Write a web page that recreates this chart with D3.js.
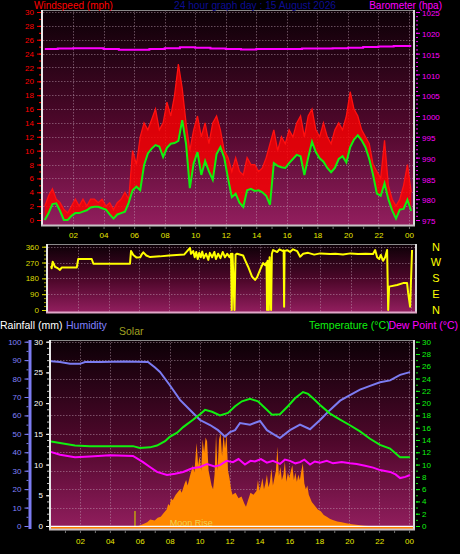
<!DOCTYPE html>
<html><head><meta charset="utf-8">
<script src="https://cdn.jsdelivr.net/npm/d3@7"></script>
<style>body{margin:0;background:#000}svg{display:block}text{font-family:"Liberation Sans",Arial,sans-serif}</style>
</head><body><script>
// ---------------- DATA ----------------
const titleText = "24 hour graph day : 15 August 2026";
const hourTicks = [2,4,6,8,10,12,14,16,18,20,22,24];
const hourLabels = ["02","04","06","08","10","12","14","16","18","20","22","00"];
const windTickValues = [0,2,4,6,8,10,12,14,16,18,20,22,24,26,28,30];
const baroTickValues = [975,980,985,990,995,1000,1005,1010,1015,1020,1025];
const dirTickValues = [0,90,180,270,360];
const compassLabels = ["N","W","S","E","N"];
const humTickValues = [0,10,20,30,40,50,60,70,80,90,100];
const rainTickValues = [0,5,10,15,20,25,30];
const tempTickValues = [0,2,4,6,8,10,12,14,16,18,20,22,24,26,28,30];

// wind, sampled every 15 minutes from 00:09
const windStart = 0.15, windStep = 0.25;
const windGust = [2,3.5,4.5,3,2.5,1.5,1,2,3,2,3,2,3,3,2.5,3,2,2.5,1.5,2.5,3,4,3,10,
  8,12,14,13,14.5,16,13,14,17,15,18,22.5,19,14,10,13,15,12,14,11,14,15,13,10,
  9,7,9,7,6.5,9,8,8,7,7.5,9,11,13,10,12,11,13,12,14,15,12,15,16,13,
  12,14,12,11,13,14,13,15,18.5,16,15,13,12,11,8,7,6,11.5,5,3,2,3,5,8,4];
const windAvg = [0,1,2.3,2.4,1.3,0,0,0.6,1,1,1.2,1.4,1.8,1.9,1.9,1.7,1.5,0.8,0.2,0.8,1,1.2,2.5,4.3,
  4.8,4.3,7.9,9.6,10.3,10.8,10.6,9.1,10.4,11,11.1,11.4,14.4,11,4.6,8.2,9.8,6.5,8.5,7,5.8,9.5,10.5,9,
  6,3.3,3.8,2.5,1.9,4.3,4.5,4.2,4.3,4,3.5,2.2,8.2,7.8,7.6,7.5,8.2,8.8,9.4,9.2,6.5,9,11.3,9.8,
  8.9,8.4,7.5,6.9,7.5,8.8,9.2,8.3,10.5,11.6,12.2,11.5,10.5,8.8,6.5,3.8,3.5,5.3,3,1.4,0.2,1.5,1.6,2.9,1.3];

const baroTimes = [0.15,1,2,3,4,5,6,7,8,9,10,11,12,13,14,15,16,17,18,19,20,21,22,23,24.15];
const baroValues = [1016.1,1016.2,1016.3,1016.3,1016.1,1015.9,1015.9,1016.1,1016.3,1016.5,1016.4,1016.2,1016.1,1016.0,1016.1,1016.1,1016.1,1016.2,1016.2,1016.3,1016.4,1016.6,1016.7,1016.8,1016.8];

const dirTimes = [0.2,0.24,0.31,0.46,0.6,0.79,0.9,1.9,2.0,2.89,3.0,5.42,5.49,5.64,5.86,6.1,6.2,6.3,6.5,6.75,7.4,8.0,8.5,9.0,
  9.39,9.45,9.6,9.7,9.8,9.9,10.0,10.1,10.2,10.3,10.45,10.6,10.7,10.85,11.0,11.1,11.25,11.4,11.55,11.7,11.85,12.0,12.1,
  12.15,12.2,12.33,12.4,12.5,12.9,13.03,13.23,13.49,13.69,13.82,14.02,14.22,14.35,14.45,14.48,14.52,14.6,14.65,14.75,14.8,
  14.88,15.15,15.3,15.54,15.58,15.61,15.64,15.81,16.0,16.2,16.47,16.67,16.87,17.2,17.6,18.0,18.65,19.0,19.5,20.0,20.5,21.0,
  21.49,21.63,21.76,21.9,22.0,22.16,22.29,22.42,22.49,22.55,23.08,23.48,23.74,23.81,23.94,24.07];
const dirValues = [250,237,275,246,240,228,241,241,290,290,263,263,336,313,298,300,317,328,310,301,305,310,313,315,
  353,320,335,300,330,290,325,300,332,295,320,285,325,300,330,290,320,295,330,300,320,300,320,
  0,320,0,315,320,310,284,246,190,171,185,228,267,255,270,0,280,0,300,0,320,
  341,330,345,335,340,19,335,340,330,345,335,303,320,325,315,322,318,320,315,322,318,320,
  318,341,300,290,313,280,300,341,0,133,142,153,153,97,19,341];

const tempTimes = [0,0.67,1.67,2.67,4.0,5.55,6.0,6.68,7.15,7.69,8.0,8.5,8.9,9.56,10.03,10.36,10.83,11.36,11.9,12.37,12.83,13.37,13.9,14.37,14.84,15.37,15.9,16.38,16.91,17.25,17.58,18.05,18.72,19.39,20.05,20.72,21.39,22.06,22.73,23.4,24.06];
const tempValues = [13.8,13.5,13.1,13.0,13.0,13.0,12.7,12.8,13.1,13.8,14.5,15.2,16.1,17.3,18.2,18.9,18.6,18.0,18.4,19.5,20.3,20.7,20.3,19.2,18.1,18.2,19.5,20.8,21.8,21.5,20.8,19.7,18.3,17.3,16.4,15.4,14.2,13.2,12.6,11.2,11.2];

const dewTimes = [0,0.67,1.67,2.67,4.0,5.55,6.22,6.68,7.15,7.82,8.36,8.9,9.5,10.03,10.5,11.0,11.36,11.8,12.23,12.6,13.03,13.4,13.7,14.1,14.5,14.9,15.37,15.7,16.04,16.4,16.71,17.0,17.38,17.7,18.05,18.5,18.92,19.5,20.05,20.5,21.06,21.6,22.06,22.73,23.1,23.4,23.75,24.06];
const dewValues = [12.1,11.6,11.2,11.3,11.5,11.4,10.4,9.6,8.8,8.3,8.5,8.8,9.4,9.6,10.1,9.7,9.9,10.6,10.4,10.9,10.0,10.6,10.5,10.9,10.3,10.6,10.1,10.8,10.6,10.2,10.4,10.8,10.0,10.5,10.3,10.6,10.2,10.4,10.2,10.1,9.8,9.5,9.1,8.8,8.4,7.8,8.0,8.3];

const humTimes = [0,0.67,1.34,2.0,2.34,3.34,5.0,6.55,7.02,7.35,8.0,8.69,9.36,10.03,10.7,11.23,11.7,12.03,12.37,12.7,13.37,14.04,14.5,14.9,15.37,16.04,16.71,17.38,18.05,18.72,19.39,20.05,20.72,21.39,22.06,22.73,23.4,24.06];
const humValues = [89.5,89,88,88,89,89,89.2,89,86,83.6,76.5,68.4,62.9,57.5,54.8,52,48.5,51,52,55.9,55,57,52,50,47.7,52,55,52.5,57.5,63,68,71,74,76,78,79,82,83.5];

const solarTimes = [5.9,6.2,6.5,6.7,7.0,7.2,7.4,7.6,7.8,7.9,8.0,8.1,8.2,8.4,8.6,8.7,8.8,9.0,9.1,9.2,9.35,9.45,9.55,9.65,9.75,9.8,9.9,10.0,10.1,10.2,10.3,10.4,10.5,10.6,10.7,10.8,10.9,11.0,11.1,11.2,11.3,11.4,11.5,11.6,11.7,11.8,11.9,12.0,12.1,12.2,12.4,12.6,12.8,13.0,13.1,13.2,13.4,13.6,13.8,13.9,14.0,14.1,14.2,14.3,14.4,14.5,14.6,14.7,14.8,14.9,15.0,15.1,15.2,15.3,15.4,15.5,15.6,15.7,15.8,15.9,16.0,16.1,16.2,16.3,16.4,16.5,16.6,16.7,16.8,16.9,17.0,17.1,17.2,17.3,17.5,17.7,17.9,18.1,18.3,18.5,18.7,18.9,19.2,19.5,19.8,20.2,20.6,21.0,21.3];
const solarValues = [0,10,20,35,30,45,50,70,90,120,110,150,140,170,190,200,180,230,250,220,270,300,330,290,400,450,330,380,300,470,400,480,460,300,260,220,200,280,500,300,470,505,380,500,420,505,300,260,200,170,180,150,160,120,105,130,180,170,190,250,190,220,260,200,230,280,210,240,310,220,260,300,430,270,320,250,280,350,240,290,260,300,330,250,290,240,280,250,300,340,230,200,220,170,130,110,90,80,60,50,40,33,25,20,15,10,5,2,0];

const rainTimes = [0,24.33];
const rainValues = [0,0];
const sunriseHour = 5.68;
const moonRiseHour = 8.0;

// ---------------- CHART ----------------
const W=460,H=554;
const svg=d3.select("body").append("svg").attr("width",W).attr("height",H);
svg.append("rect").attr("width",W).attr("height",H).attr("fill","#000");
const defs=svg.append("defs");
const grad=defs.append("linearGradient").attr("id","bg").attr("x1",0).attr("y1",0).attr("x2",0).attr("y2",1);
grad.append("stop").attr("offset","0%").attr("stop-color","#0c0006");
grad.append("stop").attr("offset","55%").attr("stop-color","#50082c");
grad.append("stop").attr("offset","100%").attr("stop-color","#921e5e");

const P1={l:43,r:414,t:10,b:225};
const P2={l:48,r:416,t:244,b:312};
const P3={l:51,r:414,t:340,b:529};

function panel(P,id){
  svg.append("rect").attr("x",P.l).attr("y",P.t).attr("width",P.r-P.l).attr("height",P.b-P.t).attr("fill","url(#bg)");
  defs.append("clipPath").attr("id",id).append("rect").attr("x",P.l).attr("y",P.t).attr("width",P.r-P.l).attr("height",P.b-P.t);
}
panel(P1,"c1");panel(P2,"c2");panel(P3,"c3");

const xTop=d3.scaleLinear().domain([0,24.33]).range([42.5,414]);
const yWind=d3.scaleLinear().domain([0,30]).range([220,12]);
const yBaro=d3.scaleLinear().domain([975,1025]).range([220,12]);
const xMid=d3.scaleLinear().domain([0,24.33]).range([48,416]);
const yDir=d3.scaleLinear().domain([0,360]).range([310,246.7]);
const xBot=d3.scaleLinear().domain([0,24.33]).range([50,414]);
const yHum=d3.scaleLinear().domain([0,100]).range([526,341.7]);
const yRain=d3.scaleLinear().domain([0,30]).range([526,341.7]);
const yTemp=d3.scaleLinear().domain([0,30]).range([526,341.7]);
const ySolar=d3.scaleLinear().domain([0,1000]).range([526,341.7]);

const gridCol="#c8a8bc";
function grid(P,xs,ys,yvals){
  const g=svg.append("g").attr("stroke",gridCol).attr("stroke-opacity",0.45).attr("stroke-dasharray","1.5,1.5").attr("stroke-width",1);
  yvals.forEach(v=>g.append("line").attr("x1",P.l).attr("x2",P.r).attr("y1",Math.round(ys(v))+0.5).attr("y2",Math.round(ys(v))+0.5));
  hourTicks.forEach(h=>g.append("line").attr("y1",P.t).attr("y2",P.b).attr("x1",Math.round(xs(h))+0.5).attr("x2",Math.round(xs(h))+0.5));
}
grid(P1,xTop,yWind,[2,4,6,8,10,12,14,16,18,20,22,24,26,28,30]);
grid(P2,xMid,yDir,[90,180,270,360]);
grid(P3,xBot,yHum,[10,20,30,40,50,60,70,80,90,100]);

// ---- top panel data
const windTimes=windGust.map((_,i)=>windStart+i*windStep);
const gTop=svg.append("g").attr("clip-path","url(#c1)");
gTop.append("path").datum(baroTimes.map((t,i)=>[t,baroValues[i]]))
  .attr("d",d3.line().x(d=>xTop(d[0])).y(d=>yBaro(d[1])).curve(d3.curveStepAfter))
  .attr("fill","none").attr("stroke","#ff00ff").attr("stroke-width",2);
gTop.append("path").datum(windTimes.map((t,i)=>[t,windGust[i],windAvg[i]]))
  .attr("d",d3.area().x(d=>xTop(d[0])).y0(d=>yWind(d[2])).y1(d=>yWind(d[1])))
  .attr("fill","#ff0000").attr("fill-opacity",0.8);
gTop.append("path").datum(windTimes.map((t,i)=>[t,windGust[i]]))
  .attr("d",d3.line().x(d=>xTop(d[0])).y(d=>yWind(d[1])))
  .attr("fill","none").attr("stroke","#ff1010").attr("stroke-width",1.3);
gTop.append("path").datum(windTimes.map((t,i)=>[t,windAvg[i]]))
  .attr("d",d3.line().x(d=>xTop(d[0])).y(d=>yWind(d[1])))
  .attr("fill","none").attr("stroke","#10f010").attr("stroke-width",2);

// ---- mid panel data
svg.append("g").attr("clip-path","url(#c2)").append("path").datum(dirTimes.map((t,i)=>[t,dirValues[i]]))
  .attr("d",d3.line().x(d=>xMid(d[0])).y(d=>yDir(d[1])))
  .attr("fill","none").attr("stroke","#ffff00").attr("stroke-width",2).attr("stroke-linejoin","round");

// ---- bottom panel data
const gBot=svg.append("g").attr("clip-path","url(#c3)");
gBot.append("path").datum(solarTimes.map((t,i)=>[t,solarValues[i]]))
  .attr("d",d3.area().x(d=>xBot(d[0])).y0(ySolar(0)).y1(d=>ySolar(d[1])))
  .attr("fill","#ff8800");
gBot.append("path").datum(humTimes.map((t,i)=>[t,humValues[i]]))
  .attr("d",d3.line().x(d=>xBot(d[0])).y(d=>yHum(d[1])))
  .attr("fill","none").attr("stroke","#7c7cf2").attr("stroke-width",2);
gBot.append("path").datum(tempTimes.map((t,i)=>[t,tempValues[i]]))
  .attr("d",d3.line().x(d=>xBot(d[0])).y(d=>yTemp(d[1])))
  .attr("fill","none").attr("stroke","#10f010").attr("stroke-width",2);
gBot.append("path").datum(dewTimes.map((t,i)=>[t,dewValues[i]]))
  .attr("d",d3.line().x(d=>xBot(d[0])).y(d=>yTemp(d[1])))
  .attr("fill","none").attr("stroke","#ff00ff").attr("stroke-width",2);
gBot.append("line").attr("x1",xBot(sunriseHour)).attr("x2",xBot(sunriseHour)).attr("y1",511).attr("y2",530)
  .attr("stroke","#c0a010").attr("stroke-width",1.5);
gBot.append("path").datum(rainTimes.map((t,i)=>[t,rainValues[i]]))
  .attr("d",d3.line().x(d=>xBot(d[0])).y(d=>yRain(d[1])+0.5))
  .attr("fill","none").attr("stroke","#ffffff").attr("stroke-width",1.5);
gBot.append("line").attr("x1",P3.l).attr("x2",P3.r).attr("y1",528.3).attr("y2",528.3).attr("stroke","#ff8000").attr("stroke-width",2.6);
svg.append("text").attr("x",xBot(moonRiseHour)).attr("y",526).attr("font-size",9).attr("fill","#f0e060").attr("fill-opacity",0.85).text("Moon Rise");

// ---- borders
function borders(P,bcol){
  svg.append("line").attr("x1",P.l-1).attr("x2",P.r+1).attr("y1",P.t+0.5).attr("y2",P.t+0.5).attr("stroke","#8a8a8a").attr("stroke-width",1);
  svg.append("line").attr("x1",P.l-1).attr("x2",P.l-1).attr("y1",P.t).attr("y2",P.b+1).attr("stroke","#e8e8e8").attr("stroke-width",2);
  svg.append("line").attr("x1",P.r).attr("x2",P.r).attr("y1",P.t).attr("y2",P.b+1).attr("stroke","#d8d8d8").attr("stroke-width",2);
  svg.append("line").attr("x1",P.l-2).attr("x2",P.r+1).attr("y1",P.b+0.5).attr("y2",P.b+0.5).attr("stroke",bcol).attr("stroke-width",2);
}
borders(P1,"#c8c0c4");borders(P2,"#e0a8c8");borders(P3,"#c8c0c4");

// ---- axes helper
function styleAxis(g,col,fs){
  g.select(".domain").remove();
  g.selectAll("line").attr("stroke",col);
  g.selectAll("text").attr("fill",col).attr("font-size",fs).attr("font-family","Liberation Sans, Arial, sans-serif");
}
const fmt=d3.format("d");
// top left wind
styleAxis(svg.append("g").attr("transform","translate(41,0)").call(d3.axisLeft(yWind).tickValues(d3.range(0,31,1)).tickSize(2).tickFormat("")),"#ff0000",8);
styleAxis(svg.append("g").attr("transform","translate(41,0)").call(d3.axisLeft(yWind).tickValues(windTickValues).tickSize(4).tickPadding(3).tickFormat(fmt)),"#ff0000",8);
// top right baro
styleAxis(svg.append("g").attr("transform","translate(416,0)").call(d3.axisRight(yBaro).tickValues(d3.range(975,1026,1)).tickSize(2).tickFormat("")),"#ff00ff",8);
const baroAx=svg.append("g").attr("transform","translate(416,0)").call(d3.axisRight(yBaro).tickValues(baroTickValues).tickSize(4).tickPadding(2).tickFormat(fmt));
styleAxis(baroAx,"#ff00ff",8);
baroAx.selectAll("text").attr("dy","0.45em");
// top x
styleAxis(svg.append("g").attr("transform",`translate(0,${P1.b+1})`).call(d3.axisBottom(xTop).tickValues(d3.range(1,25,1)).tickSize(3).tickFormat("")),"#707070",8);
styleAxis(svg.append("g").attr("transform",`translate(0,${P1.b+1})`).call(d3.axisBottom(xTop).tickValues(hourTicks).tickSize(0).tickPadding(6).tickFormat((d,i)=>hourLabels[i])),"#e8e800",8);
// mid dir
styleAxis(svg.append("g").attr("transform","translate(46,0)").call(d3.axisLeft(yDir).tickValues(d3.range(0,361,22.5)).tickSize(2).tickFormat("")),"#a0a000",8);
styleAxis(svg.append("g").attr("transform","translate(46,0)").call(d3.axisLeft(yDir).tickValues(dirTickValues).tickSize(4).tickPadding(3).tickFormat(fmt)),"#dcdc00",8);
svg.append("g").selectAll("text").data(dirTickValues.slice().reverse()).join("text")
  .attr("x",436).attr("y",d=>yDir(d)).attr("dy","0.36em").attr("text-anchor","middle")
  .attr("font-size",11).attr("fill","#ffff00").text((d,i)=>compassLabels[i]);
// bottom humidity
svg.append("line").attr("x1",30).attr("x2",30).attr("y1",P3.t).attr("y2",P3.b).attr("stroke","#7c7cf2").attr("stroke-width",3);
styleAxis(svg.append("g").attr("transform","translate(28.5,0)").call(d3.axisLeft(yHum).tickValues(d3.range(0,101,5)).tickSize(2).tickFormat("")),"#7c7cf2",8);
styleAxis(svg.append("g").attr("transform","translate(28.5,0)").call(d3.axisLeft(yHum).tickValues(humTickValues).tickSize(4).tickPadding(3).tickFormat(fmt)),"#8080ff",8);
// bottom rain
styleAxis(svg.append("g").attr("transform","translate(49,0)").call(d3.axisLeft(yRain).tickValues(d3.range(0,31,1)).tickSize(2).tickFormat("")),"#c0c0c0",8);
styleAxis(svg.append("g").attr("transform","translate(49,0)").call(d3.axisLeft(yRain).tickValues(rainTickValues).tickSize(3).tickPadding(3).tickFormat(fmt)),"#ffffff",8);
// bottom temp
styleAxis(svg.append("g").attr("transform","translate(416,0)").call(d3.axisRight(yTemp).tickValues(d3.range(0,31,1)).tickSize(2).tickFormat("")),"#10e010",8);
styleAxis(svg.append("g").attr("transform","translate(416,0)").call(d3.axisRight(yTemp).tickValues(tempTickValues).tickSize(4).tickPadding(2).tickFormat(fmt)),"#10f010",8);
// bottom x
styleAxis(svg.append("g").attr("transform",`translate(0,${P3.b+1})`).call(d3.axisBottom(xBot).tickValues(d3.range(1,25,1)).tickSize(3).tickFormat("")),"#707070",8);
styleAxis(svg.append("g").attr("transform",`translate(0,${P3.b+1})`).call(d3.axisBottom(xBot).tickValues(hourTicks).tickSize(0).tickPadding(8).tickFormat((d,i)=>hourLabels[i])),"#e8e800",8);

// ---- titles
const T=(x,y,txt,col,anchor,fs)=>svg.append("text").attr("x",x).attr("y",y).attr("font-size",fs||10.5).attr("fill",col).attr("text-anchor",anchor||"start").text(txt);
T(34,9.3,"Windspeed (mph)","#ff0000",null,10);
T(255,9.3,titleText,"#0c0c92","middle",10.2);
T(442,9.3,"Barometer (hpa)","#ff00ff","end",10);
T(0,329,"Rainfall (mm)","#ffffff");
T(66,329,"Humidity","#8080ff");
T(119,335,"Solar","#a0a020");
T(309,329,"Temperature (°C)","#10f010");
T(458,329,"Dew Point (°C)","#ff00ff","end");
</script></body></html>
